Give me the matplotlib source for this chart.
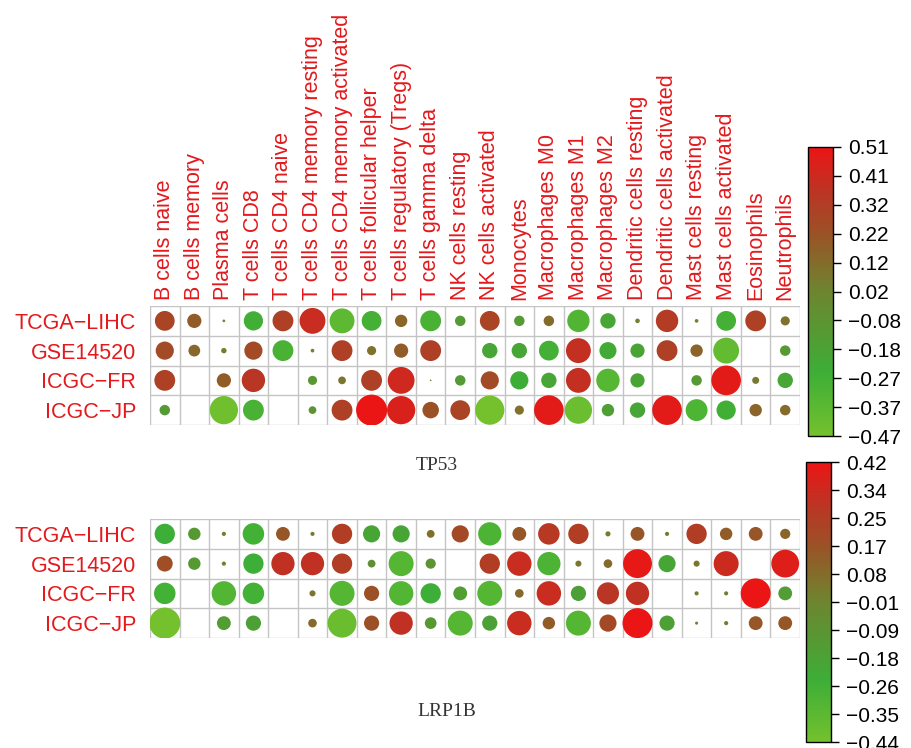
#!/usr/bin/env python3
"""
Bubble heatmaps of immune cell correlation for TP53 and LRP1B across four cohorts.
"""
import numpy as np
import matplotlib
matplotlib.use('Agg')
from matplotlib import pyplot as plt
from matplotlib.colors import LinearSegmentedColormap, Normalize
from matplotlib.cm import ScalarMappable

cells = ['B cells naive', 'B cells memory', 'Plasma cells', 'T cells CD8',
         'T cells CD4 naive', 'T cells CD4 memory resting',
         'T cells CD4 memory activated', 'T cells follicular helper',
         'T cells regulatory (Tregs)', 'T cells gamma delta', 'NK cells resting',
         'NK cells activated', 'Monocytes', 'Macrophages M0', 'Macrophages M1',
         'Macrophages M2', 'Dendritic cells resting', 'Dendritic cells activated',
         'Mast cells resting', 'Mast cells activated', 'Eosinophils', 'Neutrophils']
cohorts = ['TCGA\u2212LIHC', 'GSE14520', 'ICGC\u2212FR', 'ICGC\u2212JP']

nan = np.nan
# TP53 correlations (rows = cohorts, cols = cells), nan = not shown
tp53 = [
    [0.28, 0.18, 0.02, -0.27, 0.30, 0.40, -0.38, -0.28, 0.15, -0.30, -0.12,
     0.28, -0.12, 0.12, -0.33, -0.20, 0.04, 0.33, 0.03, -0.28, 0.30, 0.10],
    [0.25, 0.14, 0.05, 0.25, -0.30, 0.03, 0.30, 0.10, 0.18, 0.30, nan,
     -0.20, -0.20, -0.28, 0.38, -0.23, -0.18, 0.30, 0.15, -0.40, nan, -0.12],
    [0.30, nan, 0.18, 0.35, nan, -0.10, 0.08, 0.30, 0.42, 0.01, -0.12,
     0.25, -0.25, -0.20, 0.38, -0.35, -0.18, nan, -0.12, 0.48, 0.07, -0.20],
    [-0.12, nan, -0.45, -0.30, nan, -0.08, 0.30, 0.51, 0.45, 0.22, 0.28,
     -0.47, 0.10, 0.48, -0.43, -0.15, -0.20, 0.48, -0.32, -0.27, 0.15, 0.12],
]
# LRP1B correlations
lrp1b = [
    [-0.25, -0.13, 0.03, -0.27, 0.15, 0.03, 0.25, -0.20, -0.20, 0.07, 0.20,
     -0.30, 0.15, 0.27, 0.25, 0.04, 0.15, 0.03, 0.25, 0.13, 0.15, 0.10],
    [0.18, -0.13, 0.03, -0.25, 0.30, 0.30, 0.25, -0.07, -0.33, -0.10, nan,
     0.25, 0.32, -0.30, 0.05, 0.08, 0.40, -0.20, 0.05, 0.33, nan, 0.38],
    [-0.27, nan, -0.32, -0.27, nan, 0.05, -0.33, 0.17, -0.32, -0.25, -0.15,
     -0.33, 0.08, 0.32, -0.17, 0.28, 0.30, nan, 0.03, 0.03, 0.42, -0.15],
    [-0.44, nan, -0.15, -0.17, nan, 0.08, -0.40, 0.17, 0.30, -0.12, -0.33,
     -0.17, 0.32, 0.13, -0.33, 0.20, 0.42, -0.17, 0.02, 0.03, 0.15, 0.15],
]
tp53_range = (-0.47, 0.51)
lrp1b_range = (-0.44, 0.42)
tp53_ticks = ['0.51', '0.41', '0.32', '0.22', '0.12', '0.02',
              '-0.08', '-0.18', '-0.27', '-0.37', '-0.47']
lrp1b_ticks = ['0.42', '0.34', '0.25', '0.17', '0.08', '-0.01',
               '-0.09', '-0.18', '-0.26', '-0.35', '-0.44']

RED = '#E3191C'
cmap = LinearSegmentedColormap.from_list(
    'gr', [(0.0, '#74C12D'), (0.22, '#3DAE37'), (0.5, '#6E8530'),
           (0.7, '#9A5226'), (0.85, '#BC3424'), (1.0, '#EC1515')])


def bubble_panel(fig, rect, data, vrange, show_cols):
    ax = fig.add_axes(rect)
    data = np.array(data, dtype=float)
    nrow, ncol = data.shape
    norm = Normalize(*vrange)
    maxabs = max(abs(vrange[0]), abs(vrange[1]))
    cell_px = rect[2] * 912 / ncol
    yy, xx = np.mgrid[0:nrow, 0:ncol]
    ok = ~np.isnan(data)
    # bubble diameter grows a bit faster than linear for small values
    d_px = 1.05 * cell_px * (np.abs(data[ok]) / maxabs) ** 0.75
    ax.scatter(xx[ok] + 0.5, yy[ok] + 0.5, s=(d_px * 72 / 100) ** 2,
               c=data[ok], cmap=cmap, norm=norm, linewidths=0, zorder=3)
    for k in range(ncol + 1):
        ax.axvline(k, color='#C4C4C4', lw=1.0, zorder=1)
    for k in range(nrow + 1):
        ax.axhline(k, color='#C4C4C4', lw=1.0, zorder=1)
    ax.set_xlim(0, ncol)
    ax.set_ylim(nrow, 0)
    for s in ax.spines.values():
        s.set_visible(False)
    ax.set_xticks([])
    ax.set_yticks(np.arange(nrow) + 0.5)
    ax.set_yticklabels(cohorts, fontsize=15.5, color=RED, family='Liberation Sans')
    ax.tick_params(axis='y', length=0, pad=10)
    if show_cols:
        for k, name in enumerate(cells):
            ax.text(k + 0.5, -0.2, name, rotation=90, ha='center', va='bottom',
                    fontsize=15.5, color=RED, family='Liberation Sans')
    return ax, norm


def colorbar(fig, rect, norm, labels):
    cax = fig.add_axes(rect)
    cb = fig.colorbar(ScalarMappable(norm=norm, cmap=cmap), cax=cax)
    cb.set_ticks(np.linspace(norm.vmax, norm.vmin, len(labels)))
    cb.set_ticklabels([t.replace('-', '\u2212') for t in labels])
    cb.outline.set_linewidth(1.0)
    cax.tick_params(labelsize=15, length=6, width=1, pad=5)
    for t in cax.get_yticklabels():
        t.set_family('Liberation Sans')


fig = plt.figure(figsize=(9.12, 7.48), dpi=100)
W, H = 912.0, 748.0

ax1, n1 = bubble_panel(fig, [150 / W, 1 - 425 / H, 650 / W, 119 / H], tp53, tp53_range, True)
ax2, n2 = bubble_panel(fig, [150 / W, 1 - 638 / H, 650 / W, 119 / H], lrp1b, lrp1b_range, False)

colorbar(fig, [808 / W, 1 - 436 / H, 25 / W, 289 / H], n1, tp53_ticks)
colorbar(fig, [806 / W, 1 - 742 / H, 25 / W, 280 / H], n2, lrp1b_ticks)

fig.text(437 / W, 1 - 465 / H, 'TP53', ha='center', va='center', fontsize=14,
         family='Liberation Serif', color='#333333')
fig.text(447 / W, 1 - 712 / H, 'LRP1B', ha='center', va='center', fontsize=14,
         family='Liberation Serif', color='#333333')

fig.savefig('out.png', dpi=100)
